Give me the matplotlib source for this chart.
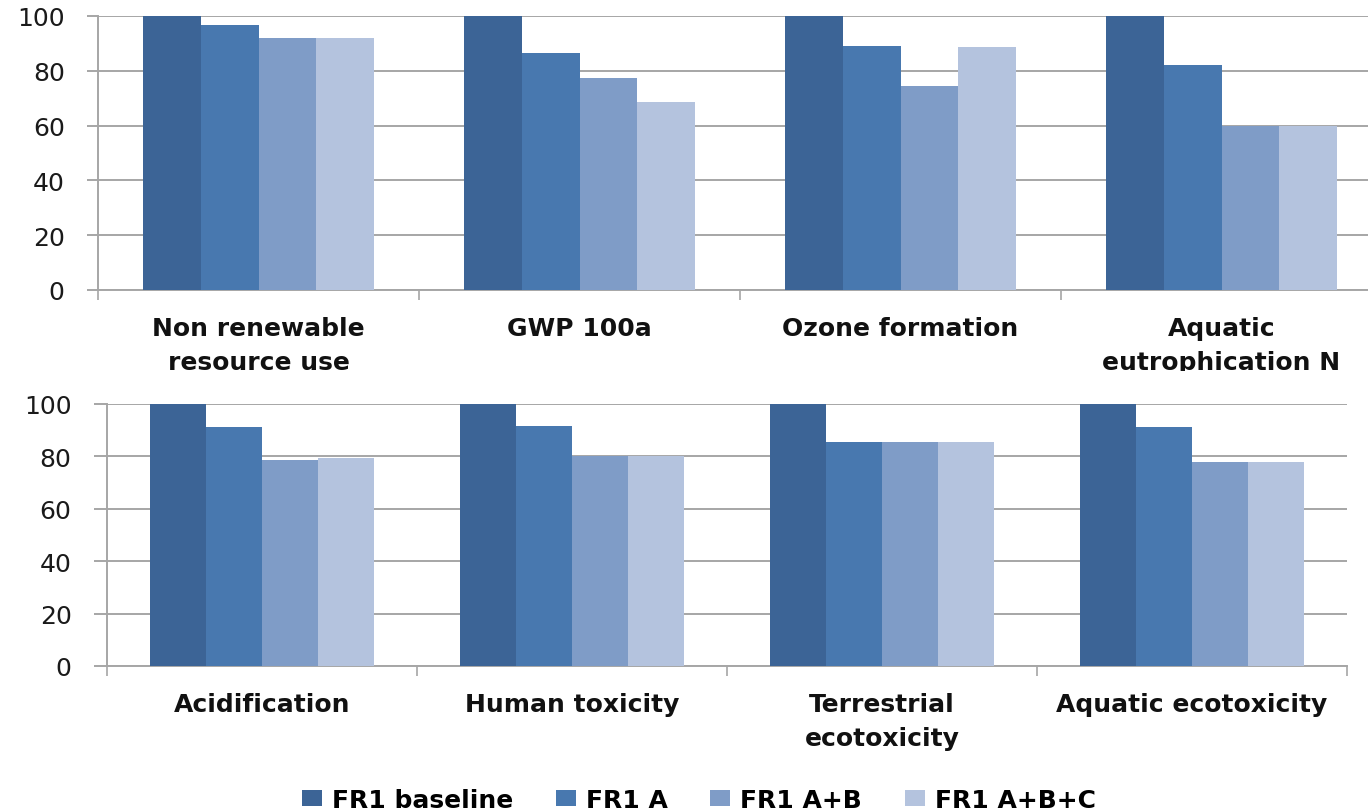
import matplotlib
matplotlib.use("Agg")
import matplotlib.pyplot as plt
import numpy as np
from matplotlib.patches import Patch
from matplotlib.transforms import Bbox, TransformedBbox

# Impact categories (two rows of four)
categories_top = ["Non renewable\nresource use", "GWP 100a", "Ozone formation",
                  "Aquatic\neutrophication N"]
categories_bottom = ["Acidification", "Human toxicity", "Terrestrial\necotoxicity",
                     "Aquatic ecotoxicity"]

series_names = ["FR1 baseline", "FR1 A", "FR1 A+B", "FR1 A+B+C"]

# Relative impact (%), baseline = 100
top_baseline = [100, 100, 100, 100]
top_a = [96.7, 86.5, 88.9, 82.0]
top_ab = [92.1, 77.3, 74.3, 60.0]
top_abc = [92.1, 68.7, 88.6, 60.0]

bottom_baseline = [100, 100, 100, 100]
bottom_a = [91.2, 91.6, 85.4, 91.2]
bottom_ab = [78.6, 80.2, 85.4, 77.9]
bottom_abc = [79.5, 80.2, 85.4, 77.9]

yticks = [0, 20, 40, 60, 80, 100]

colors = ["#3c6496", "#4878af", "#7f9cc7", "#b4c3de"]
grid_color = "#a6a6a6"

plt.rcParams["font.family"] = ["DejaVu Sans"]

fig = plt.figure(figsize=(13.68, 8.12), dpi=100)

ax_top = fig.add_axes([98 / 1368, (812 - 291) / 812, 1284 / 1368, 274 / 812])
ax_bot = fig.add_axes([107 / 1368, (812 - 667) / 812, 1240 / 1368, 262 / 812])

# Labels of the upper row are cut just above the lower chart
clip_box = TransformedBbox(Bbox([[0, 1 - 372 / 812], [1, 1]]), fig.transFigure)

bar_w = 0.18
offsets = (np.arange(4) - 1.5) * bar_w


def draw_panel(ax, cats, values, ytick_len, clip=None):
    x = np.arange(len(cats)) + 0.5
    for k, vals in enumerate(values):
        ax.bar(x + offsets[k], vals, width=bar_w, color=colors[k], linewidth=0,
               zorder=3, label=series_names[k])
    ax.set_xlim(0, len(cats))
    ax.set_ylim(0, 100)
    ax.set_yticks(yticks)
    ax.set_yticklabels([str(t) for t in yticks], fontsize=18, color="#1a1a1a")
    ax.yaxis.grid(True, color=grid_color, linewidth=1.4, zorder=0)
    ax.set_axisbelow(True)
    ax.set_xticks(np.arange(len(cats) + 1))
    ax.set_xticklabels([])
    ax.tick_params(axis="x", direction="out", length=7, width=1.2, color=grid_color)
    ax.tick_params(axis="y", direction="out", length=ytick_len, width=1.4,
                   color=grid_color, pad=16)
    for s in ["top", "right"]:
        ax.spines[s].set_visible(False)
    for s in ["left", "bottom"]:
        ax.spines[s].set_color(grid_color)
        ax.spines[s].set_linewidth(1.4)
    for xi, name in zip(x, cats):
        t = ax.annotate(name, xy=(xi, 0), xycoords="data", xytext=(0, -19),
                        textcoords="offset points", ha="center", va="top",
                        fontsize=18, fontweight="bold", color="#111111",
                        linespacing=1.5, annotation_clip=False)
        if clip is not None:
            t.set_clip_box(clip)
            t.set_clip_on(True)


draw_panel(ax_top, categories_top, [top_baseline, top_a, top_ab, top_abc], 8, clip_box)
draw_panel(ax_bot, categories_bottom, [bottom_baseline, bottom_a, bottom_ab, bottom_abc], 9.5)

handles = [Patch(facecolor=c, edgecolor="none") for c in colors]
fig.legend(handles, series_names, loc="center", ncol=4,
           bbox_to_anchor=(699 / 1368, 1 - 801 / 812), frameon=False,
           prop={"weight": "bold", "size": 18}, handlelength=0.8,
           handleheight=0.6, handletextpad=0.4, columnspacing=1.7)

fig.savefig("out.png", dpi=100)
